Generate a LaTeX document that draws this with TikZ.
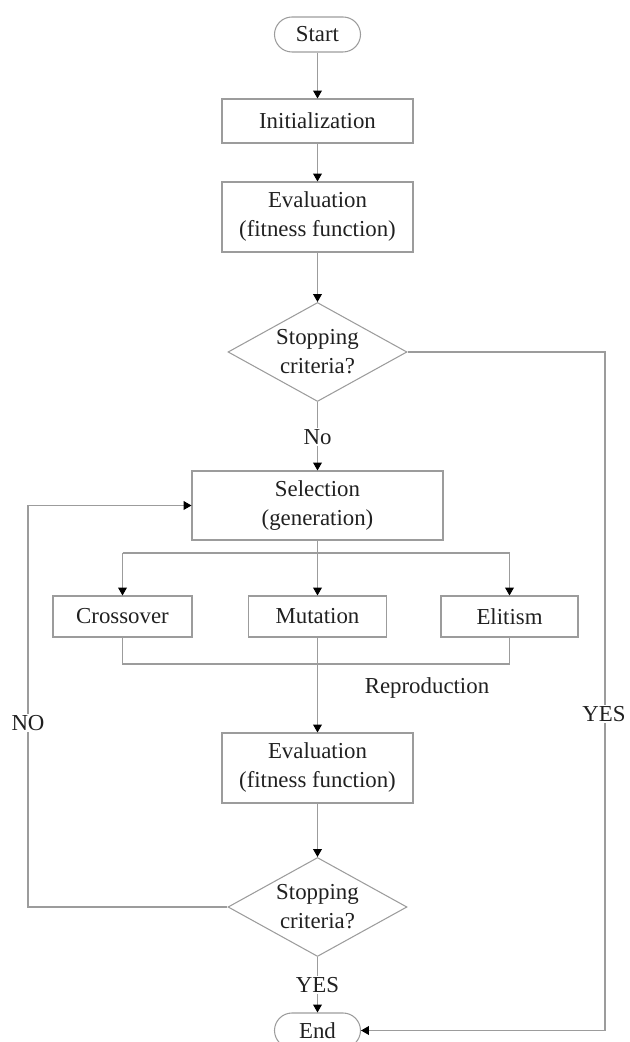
\documentclass[tikz,border=0pt]{standalone}
\usepackage{fontspec}
\setmainfont{Liberation Serif}
\usetikzlibrary{positioning,arrows.meta,shapes.geometric}
\definecolor{linegray}{HTML}{9C9C9C}
\definecolor{textdark}{HTML}{202020}

\begin{document}
\begin{tikzpicture}[x=1cm,y=1cm,
  every node/.style={font=\fontsize{13}{16.5}\selectfont, text=textdark},
  flow/.style={draw=linegray, line width=0.6pt},
  arr/.style={flow, -{Triangle[width=5pt,length=4.5pt,color=black]}},
  procbox/.style={draw=linegray, line width=0.6pt, rectangle, align=center, inner sep=0pt},
  termbox/.style={procbox, rounded corners=0.35cm, minimum width=1.72cm, minimum height=0.70cm},
  decide/.style={draw=linegray, line width=0.6pt, diamond, align=center, inner sep=-0.2cm, minimum width=3.58cm, minimum height=1.98cm},
  lbl/.style={fill=white, inner sep=1pt}]
\useasboundingbox (0,0) rectangle (12.58,20.84);
\node[termbox] (start) at (6.35,20.15) {Start};
\node[procbox, minimum width=3.82cm, minimum height=0.88cm] (init) at (6.35,18.42) {Initialization};
\node[procbox, minimum width=3.82cm, minimum height=1.40cm] (eval1) at (6.35,16.50) {Evaluation\\(fitness function)};
\node[decide] (stop1) at (6.35,13.80) {Stopping\\criteria?};
\node[procbox, minimum width=5.02cm, minimum height=1.38cm] (sel) at (6.35,10.73) {Selection\\(generation)};
\node[procbox, minimum width=2.78cm, minimum height=0.82cm] (cross) at (2.45,8.51) {Crossover};
\node[procbox, minimum width=2.76cm, minimum height=0.82cm] (mut) at (6.35,8.51) {Mutation};
\node[procbox, minimum width=2.74cm, minimum height=0.82cm] (elit) at (10.19,8.51) {Elitism};
\node (repro) at (8.54,7.08) {Reproduction};
\node[procbox, minimum width=3.82cm, minimum height=1.40cm] (eval2) at (6.35,5.48) {Evaluation\\(fitness function)};
\node[decide] (stop2) at (6.35,2.70) {Stopping\\criteria?};
\node[termbox] (end) at (6.35,0.23) {End};
\coordinate (split) at (6.35,9.78);
\coordinate (merge) at (6.35,7.56);
\coordinate (loopL) at (0.56,2.70);
\coordinate (loopR) at (12.10,13.80);
\draw[arr] (start) -- (init);
\draw[arr] (init) -- (eval1);
\draw[arr] (eval1) -- (stop1);
\draw[arr] (stop1) -- (sel);
\draw[flow] (sel) -- (split);
\draw[flow] (split -| cross) -- (split -| elit);
\draw[arr] (split -| cross) -- (cross);
\draw[arr] (split) -- (mut);
\draw[arr] (split -| elit) -- (elit);
\draw[flow] (cross.south) |- (merge -| elit) -- (elit.south);
\draw[arr] (mut) -- (eval2);
\draw[arr] (eval2) -- (stop2);
\draw[arr] (stop2) -- (end);
\draw[arr] (stop2.west) -- (loopL) |- (sel.west);
\draw[arr] (stop1.east) -- (loopR) |- (end.east);
\node[lbl] (no1) at (6.35,12.10) {No};
\node[lbl] (yes2) at (6.35,1.14) {YES};
\node[lbl] (no2) at (0.56,6.38) {NO};
\node[lbl] (yes1) at (12.08,6.56) {YES};
\end{tikzpicture}
\end{document}
